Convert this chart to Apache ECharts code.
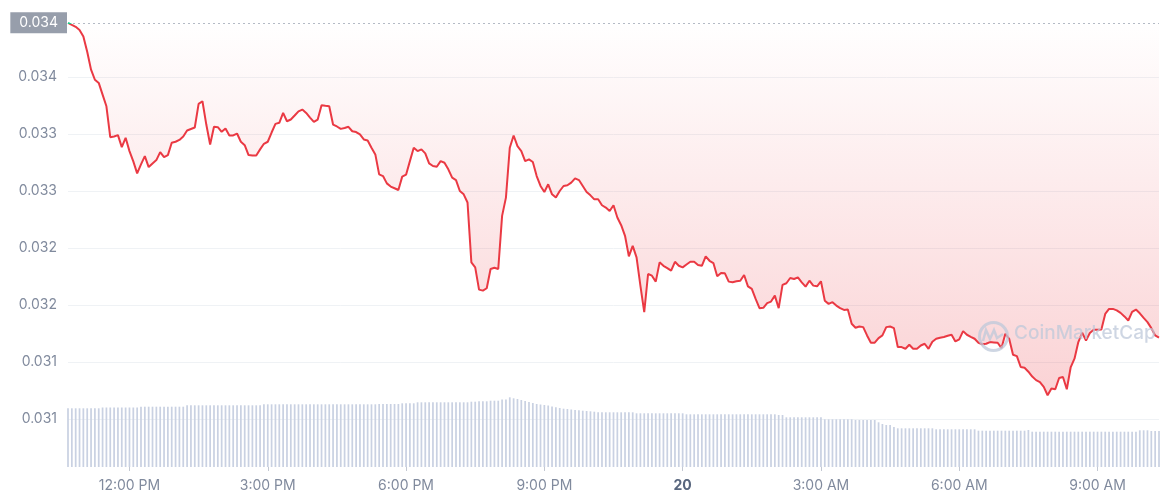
<!DOCTYPE html>
<html>
<head>
<meta charset="utf-8">
<script src="https://cdn.jsdelivr.net/npm/echarts@6/dist/echarts.min.js"></script>
<style>
html,body{margin:0;padding:0;background:#fff;}
#c{width:1161px;height:500px;}
</style>
</head>
<body>
<div id="c"></div>
<script>
// ---- data ----
const startMinute = 640; // 10:40 AM, 5-minute steps
const stepMinutes = 5;
const prices = [
0.034475,0.034457,0.034440,0.034413,0.034355,0.034221,0.034064,0.033976,0.033948,0.033845,
0.033743,0.033472,0.033478,0.033490,0.033385,0.033467,0.033350,0.033260,0.033155,0.033233,
0.033306,0.033210,0.033242,0.033271,0.033341,0.033297,0.033315,0.033423,0.033432,0.033448,
0.033478,0.033531,0.033544,0.033557,0.033764,0.033787,0.033583,0.033408,0.033563,0.033560,
0.033519,0.033548,0.033487,0.033487,0.033504,0.033432,0.033402,0.033315,0.033312,0.033312,
0.033365,0.033414,0.033432,0.033513,0.033589,0.033598,0.033685,0.033612,0.033627,0.033662,
0.033699,0.033714,0.033685,0.033644,0.033607,0.033627,0.033752,0.033747,0.033743,0.033583,
0.033566,0.033545,0.033552,0.033563,0.033524,0.033517,0.033496,0.033452,0.033443,0.033379,
0.033321,0.033146,0.033131,0.033067,0.033039,0.033024,0.033009,0.033126,0.033143,0.033262,
0.033379,0.033350,0.033365,0.033330,0.033242,0.033219,0.033213,0.033262,0.033248,0.033190,
0.033117,0.033096,0.033000,0.032971,0.032899,0.032374,0.032330,0.032135,0.032126,0.032147,
0.032316,0.032327,0.032316,0.032782,0.032942,0.033379,0.033487,0.033393,0.033350,0.033262,
0.033277,0.033254,0.033131,0.033044,0.032991,0.033059,0.032971,0.032942,0.033000,0.033044,
0.033050,0.033074,0.033111,0.033096,0.033044,0.032991,0.032962,0.032927,0.032927,0.032875,
0.032855,0.032825,0.032875,0.032767,0.032700,0.032607,0.032427,0.032519,0.032418,0.032170,
0.031937,0.032272,0.032257,0.032205,0.032374,0.032344,0.032324,0.032301,0.032379,0.032344,
0.032330,0.032355,0.032379,0.032379,0.032351,0.032344,0.032427,0.032388,0.032368,0.032252,
0.032281,0.032278,0.032205,0.032199,0.032208,0.032213,0.032263,0.032164,0.032141,0.032053,
0.031972,0.031975,0.032016,0.032030,0.032082,0.031972,0.032176,0.032191,0.032237,0.032228,
0.032243,0.032199,0.032161,0.032213,0.032170,0.032164,0.032208,0.032038,0.032010,0.032025,
0.031995,0.031972,0.031957,0.031960,0.031835,0.031800,0.031811,0.031806,0.031733,0.031669,
0.031669,0.031710,0.031733,0.031806,0.031811,0.031797,0.031631,0.031631,0.031616,0.031651,
0.031616,0.031616,0.031645,0.031660,0.031616,0.031678,0.031704,0.031713,0.031719,0.031730,
0.031739,0.031680,0.031699,0.031771,0.031739,0.031721,0.031704,0.031669,0.031656,0.031660,
0.031675,0.031672,0.031669,0.031622,0.031747,0.031704,0.031564,0.031552,0.031456,0.031450,
0.031415,0.031372,0.031341,0.031324,0.031282,0.031208,0.031267,0.031261,0.031360,0.031369,
0.031261,0.031452,0.031529,0.031675,0.031756,0.031689,0.031754,0.031782,0.031782,0.031785,
0.031922,0.031966,0.031966,0.031953,0.031931,0.031900,0.031864,0.031940,0.031960,0.031927,
0.031887,0.031850,0.031797,0.031733,0.031713
];
const volumes = [
58.7,58.7,58.7,58.7,58.7,58.7,58.7,58.7,58.7,
59.5,59.5,59.5,59.5,59.5,59.5,59.5,59.5,59.5,59.5,
60.3,60.3,60.3,60.3,60.3,60.3,60.3,60.3,60.3,60.3,60.3,60.3,
61.7,61.7,61.7,61.7,61.7,61.7,61.7,61.7,61.7,61.7,61.7,61.7,61.7,61.7,61.7,61.7,61.7,61.7,61.7,61.7,
62.7,62.7,62.7,62.7,62.7,62.7,62.7,62.7,62.7,62.7,62.7,62.7,62.7,62.7,62.7,
62.7,62.7,62.7,62.7,62.7,62.7,62.7,62.7,62.7,62.7,62.7,62.7,62.7,62.7,62.7,
63,63,63,63,63,63,
63.7,63.7,63.7,63.7,
64.7,64.7,64.7,64.7,64.7,64.7,64.7,64.7,64.7,64.7,64.7,64.7,64.7,64.7,
65.3,65.3,65.7,65.7,65.7,66.3,66.3,66.3,67.5,67.5,
69.7,68.7,68,67,66,65,64,63,62.5,62,61.5,60.5,59.7,59,58.3,58,57.5,57,56.7,56.3,56,55.7,55.3,
54.7,54.7,54.7,54.7,54.7,54.7,54.7,54.7,54.7,54.7,
53.7,53.7,53.7,53.7,53.7,53.7,53.7,53.7,53.7,53.7,53.7,53.7,53.7,
52.7,52.7,52.7,52.7,52.7,52.7,52.7,52.7,52.7,52.7,52.7,52.7,
52.7,52.7,52.7,52.7,52.7,52.7,52.7,52.7,52.7,52.7,52.7,52.7,
52,52,
49.7,49.7,49.7,49.7,49.7,49.7,49.7,49.7,49.7,49.7,
47.7,47.7,47.7,47.7,47.7,47.7,47.7,47.7,
47,47,47,47,47,47,
44.7,43,42,42,40,
38.7,38.7,38.7,38.7,38.7,38.7,38.7,38.7,38.7,38.7,
37.7,37.7,37.7,37.7,37.7,37.7,37.7,37.7,37.7,37.7,37.7,
36.3,36.3,36.3,36.3,36.3,36.3,36.3,36.3,36.3,36.3,36.3,36.3,36.3,
37,
35.3,35.3,35.3,35.3,35.3,35.3,35.3,35.3,35.3,35.3,35.3,35.3,35.3,35.3,
35.3,35.3,35.3,35.3,35.3,35.3,35.3,35.3,35.3,35.3,35.3,35.3,35.3,35.3,
36.7,36.7,36.7,
36,36,36
];
const yMin = 0.0305, yMax = 0.0345, yStep = 0.0005;
const yTickLabels = ['', '0.031', '0.031', '0.032', '0.032', '0.033', '0.033', '0.034', ''];
const xTickTimes = ['12:00', '15:00', '18:00', '21:00', '00:00', '03:00', '06:00', '09:00'];
const xTickLabels = ['12:00 PM', '3:00 PM', '6:00 PM', '9:00 PM', '20', '3:00 AM', '6:00 AM', '9:00 AM'];

// categories: time of day for each 5-minute point
const categories = prices.map(function (_, i) {
  const m = (startMinute + i * stepMinutes) % 1440;
  const h = Math.floor(m / 60), mm = m % 60;
  return (h < 10 ? '0' : '') + h + ':' + (mm < 10 ? '0' : '') + mm;
});
const lastIdx = prices.length - 1;

const FONT = 'Inter';
const gray = '#808a9d';
const isTick = function (index, value) { return xTickTimes.indexOf(value) >= 0; };

const chart = echarts.init(document.getElementById('c'), null, { renderer: 'canvas' });
chart.setOption({
  animation: false,
  backgroundColor: '#ffffff',
  textStyle: { fontFamily: FONT },
  grid: [
    { left: 68, right: 2, top: 20, bottom: 24 },
    { left: 68, right: 2, top: 387, bottom: 33 }
  ],
  xAxis: [
    {
      type: 'category', gridIndex: 0, data: categories, boundaryGap: false,
      axisLine: { show: false }, axisTick: { show: false }, axisLabel: { show: false }, splitLine: { show: false }
    },
    {
      type: 'category', gridIndex: 1, data: categories, boundaryGap: false,
      axisLine: { show: false },
      axisTick: { show: true, interval: isTick, length: 4, lineStyle: { color: '#c3c8d2' } },
      axisLabel: {
        interval: isTick, margin: 12, color: gray, fontSize: 14, fontFamily: FONT,
        formatter: function (value) {
          const k = xTickTimes.indexOf(value);
          if (k < 0) return '';
          const t = xTickLabels[k];
          return t === '20' ? '{b|' + t + '}' : t;
        },
        rich: { b: { fontWeight: 'bold', color: '#58667e', fontSize: 14, fontFamily: FONT } }
      },
      splitLine: { show: false }
    }
  ],
  yAxis: [
    {
      type: 'value', gridIndex: 0, min: yMin, max: yMax, interval: yStep,
      axisLine: { show: false }, axisTick: { show: false },
      axisLabel: {
        color: gray, fontSize: 14, margin: 11, fontFamily: FONT,
        showMinLabel: false, showMaxLabel: false,
        formatter: function (v) { return yTickLabels[Math.round((v - yMin) / yStep)]; }
      },
      splitLine: { show: true, showMinLine: false, showMaxLine: false, lineStyle: { color: '#eff2f5', width: 1 } }
    },
    {
      type: 'value', gridIndex: 1, min: 0, max: 80, show: false,
      axisLabel: { show: false }, splitLine: { show: false }
    }
  ],
  visualMap: {
    show: false, type: 'piecewise', seriesIndex: 0, dimension: 1,
    pieces: [
      { gt: 0.034466, lte: 1, color: '#16c784' },
      { gt: 0, lte: 0.034466, color: '#ea3943' }
    ]
  },
  series: [
    {
      type: 'line', xAxisIndex: 0, yAxisIndex: 0, data: prices,
      symbol: 'none', smooth: false, z: 5,
      lineStyle: { width: 2 },
      areaStyle: {
        origin: 'end',
        color: new echarts.graphic.LinearGradient(0, 0, 0, 1, [
          { offset: 0, color: 'rgba(234,57,67,0.0)' },
          { offset: 1, color: 'rgba(234,57,67,0.32)' }
        ])
      },
      markLine: {
        silent: true, symbol: ['none', 'none'], animation: false,
        lineStyle: { type: [2, 3], color: '#b4bac5', width: 1 },
        label: {
          show: true, position: 'start', distance: 1,
          formatter: prices[0].toFixed(3),
          color: '#ffffff', backgroundColor: '#979eab', padding: [4, 9, 3, 9],
          fontSize: 14, fontFamily: FONT
        },
        data: [[
          { coord: [categories[0], prices[0]] },
          { coord: [categories[lastIdx], prices[0]] }
        ]]
      }
    },
    {
      type: 'bar', xAxisIndex: 1, yAxisIndex: 1, data: volumes,
      barWidth: '45%', itemStyle: { color: '#c9d1e2' }, z: 2
    }
  ],
  graphic: [
    {
      type: 'circle', left: 977, top: 320, z: 100, silent: true,
      shape: { r: 14 },
      style: { fill: 'none', stroke: 'rgba(190,200,218,0.75)', lineWidth: 3 }
    },
    {
      type: 'polyline', z: 100, silent: true,
      shape: { points: [[983, 341], [986, 330], [990, 339], [994, 330], [997, 338], [1003, 334]] },
      style: { fill: 'none', stroke: 'rgba(190,200,218,0.75)', lineWidth: 2.5 }
    },
    {
      type: 'text', left: 1014, top: 324, z: 100, silent: true,
      style: { text: 'CoinMarketCap', fontSize: 19, fontWeight: 500, fontFamily: FONT, fill: 'rgba(190,200,218,0.75)' }
    }
  ]
});
</script>
</body>
</html>
